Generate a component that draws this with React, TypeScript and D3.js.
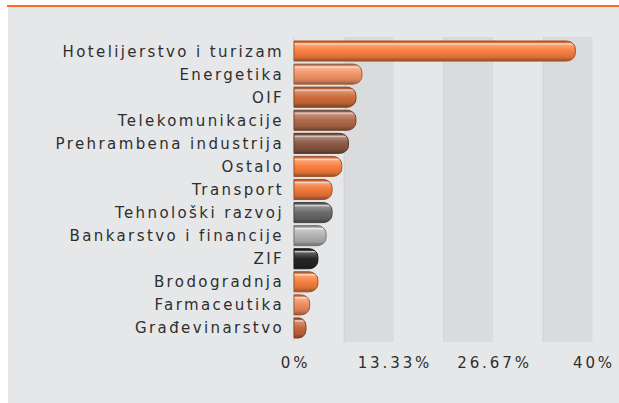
import React from "react";
import * as d3 from "d3";

const categories = [
  "Hotelijerstvo i turizam",
  "Energetika",
  "OIF",
  "Telekomunikacije",
  "Prehrambena industrija",
  "Ostalo",
  "Transport",
  "Tehnološki razvoj",
  "Bankarstvo i financije",
  "ZIF",
  "Brodogradnja",
  "Farmaceutika",
  "Građevinarstvo",
];
const values = [37.7, 9.1, 8.3, 8.3, 7.3, 6.4, 5.1, 5.1, 4.3, 3.2, 3.2, 2.1, 1.6];
const barColors = [
  "#f97f3e", "#f39566", "#cf6c3a", "#b06a4b", "#8b5a44", "#f97f3e", "#f2783a",
  "#6a6a6a", "#b2b2b2", "#262626", "#f97f3e", "#ee8c5e", "#c96639",
];
const tickValues = [0, 13.33, 26.67, 40];
const tickLabels = ["0%", "13.33%", "26.67%", "40%"];
const bandEdges = [0, 6.667, 13.333, 20, 26.667, 33.333, 40];

const W = 619;
const H = 403;

export default function App() {
  const x = d3.scaleLinear().domain([0, 40]).range([294, 592.5]);
  const y = d3.scaleBand<string>().domain(categories).range([39.5, 339.5]).paddingInner(0.13).paddingOuter(0.065);
  const bh = y.bandwidth();
  const font = "'DejaVu Sans', Verdana, sans-serif";

  const barPath = (v: number, yy: number) => {
    const x0 = x(0);
    const x1 = x(v);
    const w = x1 - x0;
    const rx = Math.min(9, w * 0.6);
    const ry = Math.min(bh / 2 - 0.5, 8);
    return `M${x0},${yy} H${x1 - rx} A${rx},${ry} 0 0 1 ${x1},${yy + ry} V${yy + bh - ry} A${rx},${ry} 0 0 1 ${x1 - rx},${yy + bh} H${x0} Z`;
  };

  const mix = (c: string, t: string, k: number) => d3.interpolateRgb(c, t)(k);

  return (
    <div style={{ position: "absolute", left: 0, top: 0 }}>
      <svg width={W} height={H} style={{ display: "block" }}>
        <defs>
          {barColors.map((c, i) => (
            <linearGradient key={i} id={`g${i}`} x1="0" y1="0" x2="0" y2="1">
              <stop offset="0" stopColor={mix(c, "#000", 0.35)} />
              <stop offset="0.08" stopColor={mix(c, "#000", 0.1)} />
              <stop offset="0.14" stopColor={mix(c, "#fff", 0.75)} />
              <stop offset="0.22" stopColor={mix(c, "#fff", 0.25)} />
              <stop offset="0.5" stopColor={c} />
              <stop offset="0.8" stopColor={mix(c, "#000", 0.12)} />
              <stop offset="1" stopColor={mix(c, "#000", 0.4)} />
            </linearGradient>
          ))}
        </defs>
        <rect x={7} y={5} width={W - 7} height={2} fill="#ff6a21" />
        <rect x={8} y={7} width={W - 8} height={H - 7} fill="#e6e7e8" />
        {bandEdges.slice(0, -1).map((e, i) =>
          i % 2 === 1 ? (
            <g key={i}>
              <rect x={x(e)} y={37} width={x(bandEdges[i + 1]) - x(e)} height={305} fill="#dadbdd" />
              <rect x={x(e)} y={37} width={1} height={305} fill="#d2d3d5" />
            </g>
          ) : null
        )}
        <rect x={x(0) - 1} y={37} width={1} height={305} fill="#d6d7d9" />
        {categories.map((c, i) => {
          const yy = y(c) as number;
          return (
            <g key={c}>
              <path d={barPath(values[i], yy)} fill={`url(#g${i})`} stroke={mix(barColors[i], "#000", 0.35)} strokeWidth={1} />
              <text
                x={284}
                y={yy + bh / 2 + 5.5}
                textAnchor="end"
                fontFamily={font}
                fontSize={15}
                letterSpacing={2.4}
                fill="#2e2e2e"
              >
                {c}
              </text>
            </g>
          );
        })}
        {tickValues.map((t, i) => (
          <text
            key={i}
            x={x(t) + 1.5}
            y={368}
            textAnchor="middle"
            fontFamily={font}
            fontSize={15}
            letterSpacing={2.9}
            fill="#2e2e2e"
          >
            {tickLabels[i]}
          </text>
        ))}
      </svg>
    </div>
  );
}
